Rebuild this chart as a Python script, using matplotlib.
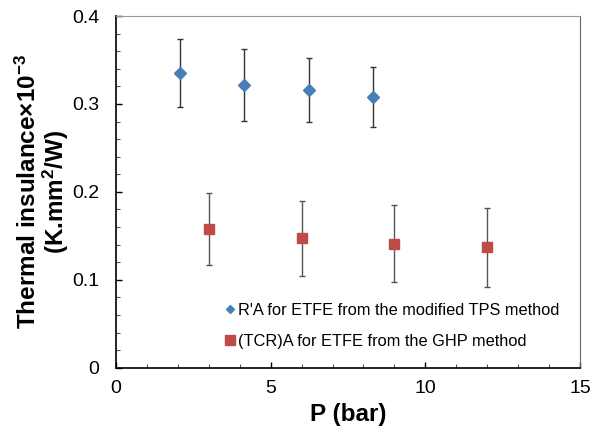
import matplotlib
matplotlib.use("Agg")
import matplotlib.pyplot as plt
from matplotlib.lines import Line2D
from matplotlib.ticker import MultipleLocator

plt.rcParams['font.family'] = ['Liberation Sans', 'DejaVu Sans']
plt.rcParams['mathtext.fontset'] = 'custom'
plt.rcParams['mathtext.rm'] = 'Liberation Sans:bold'
plt.rcParams['mathtext.default'] = 'rm'

# Modified TPS method: R'A
tps_p = [2.08, 4.15, 6.24, 8.32]
tps_val = [0.335, 0.322, 0.316, 0.308]
tps_err = [0.039, 0.041, 0.036, 0.034]

# GHP method: (TCR)A
ghp_p = [3, 6, 9, 12]
ghp_val = [0.158, 0.147, 0.141, 0.137]
ghp_err = [0.041, 0.043, 0.044, 0.045]

tps_label = "R'A for ETFE from the modified TPS method"
ghp_label = "(TCR)A for ETFE from the GHP method"

blue = '#4a7ebb'
red = '#be4b48'

fig = plt.figure(figsize=(6.03, 4.33), dpi=100)
ax = fig.add_axes([0.1924, 0.1508, 0.7695, 0.8122])

ax.errorbar(tps_p, tps_val, yerr=tps_err, fmt='D', color=blue,
            markersize=5.8, ecolor='#333333', elinewidth=1, capsize=2,
            capthick=1, zorder=3)
ax.errorbar(ghp_p, ghp_val, yerr=ghp_err, fmt='s', color=red,
            markersize=7.7, ecolor='#555555', elinewidth=1, capsize=2,
            capthick=1, zorder=3)

ax.set_xlim(0, 15)
ax.set_ylim(0, 0.4)
ax.xaxis.set_major_locator(MultipleLocator(5))
ax.xaxis.set_minor_locator(MultipleLocator(1))
ax.set_yticks([0, 0.1, 0.2, 0.3, 0.4])
ax.set_yticklabels(['0', '0.1', '0.2', '0.3', '0.4'])
ax.yaxis.set_minor_locator(MultipleLocator(0.02))

ax.tick_params(which='both', direction='in', labelsize=14,
               top=False, right=False)
ax.tick_params(axis='y', which='both', pad=12)
ax.tick_params(axis='x', which='both', pad=9)
ax.tick_params(which='major', length=4, width=1)
ax.tick_params(which='minor', length=3, width=0.8, color='#555555')

for side in ('left', 'bottom'):
    ax.spines[side].set_color('black')
    ax.spines[side].set_linewidth(1.2)
ax.spines['top'].set_color('#999999')
ax.spines['right'].set_color('#666666')

ax.set_xlabel('P (bar)', fontsize=17.5, fontweight='bold', labelpad=4)
ax.set_ylabel('Thermal insulance\u00d710$^{-3}$\n(K.mm$^{2}$/W)',
              fontsize=17.5, fontweight='bold', labelpad=1, linespacing=1.0)

handles = [
    Line2D([], [], linestyle='none', marker='D', markersize=4.2, color=blue),
    Line2D([], [], linestyle='none', marker='s', markersize=7.2, color=red),
]
fig.legend(handles, [tps_label, ghp_label], loc='center left',
           bbox_to_anchor=(223 / 603, 1 - 326 / 433), frameon=False,
           fontsize=11.8, handlelength=0.8, handletextpad=0.1,
           labelspacing=0.95, borderpad=0, borderaxespad=0)

fig.savefig('out.png', dpi=100)
